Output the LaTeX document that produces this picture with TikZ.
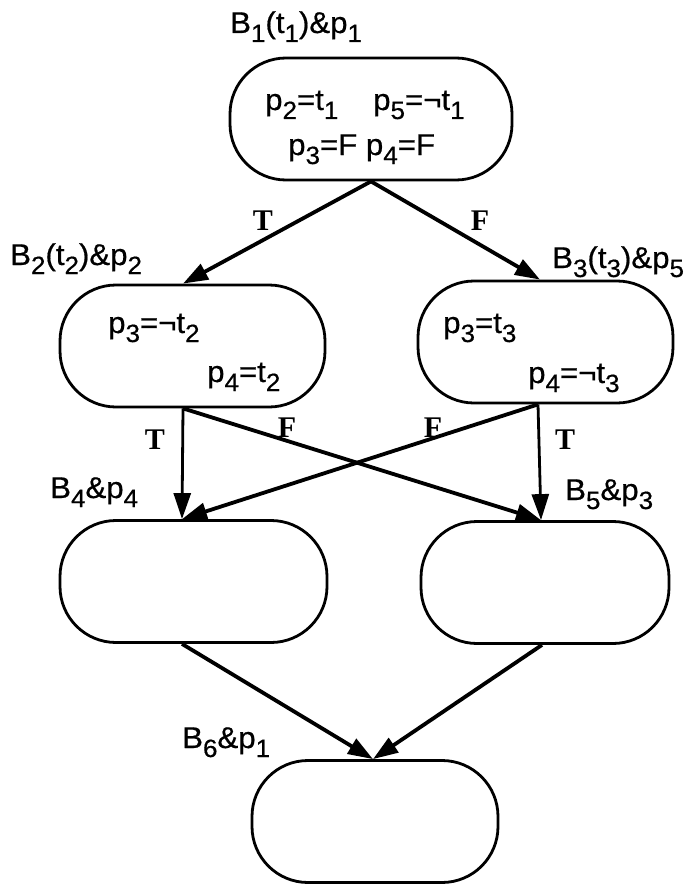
\documentclass[tikz,border=0pt]{standalone}
\usepackage{fontspec}
\setmainfont[FakeBold=0.6,FakeStretch=1.04]{Liberation Sans}
\newfontfamily\tfont{Liberation Serif}
\usetikzlibrary{arrows.meta}
\newcommand\sbs[1]{\raisebox{-0.3em}{\fontsize{25}{25}\selectfont #1}}
\begin{document}
\begin{tikzpicture}[x=1pt,y=-1pt,
  blk/.style={draw, line width=2.8pt, rounded corners=56pt, minimum height=122pt, inner sep=0pt},
  lab/.style={font=\fontsize{30}{32}\selectfont, inner sep=0pt, anchor=base west},
  tf/.style={font=\fontsize{30}{30}\selectfont\tfont\bfseries, inner sep=0pt},
  arr/.style={line width=3.8pt, -{Triangle[length=25pt,width=17pt]}},
  varr/.style={line width=2.8pt, -{Triangle[length=26pt,width=17pt]}}]
\useasboundingbox (0,0) rectangle (691,888);
% blocks
\node[blk, minimum width=282pt] (B1) at (371,119) {};
\node[blk, minimum width=265pt] (B2) at (192.5,346) {};
\node[blk, minimum width=255pt] (B3) at (545.5,342) {};
\node[blk, minimum width=267pt] (B4) at (193.5,581.5) {};
\node[blk, minimum width=248pt] (B5) at (545,582.5) {};
\node[blk, minimum width=246pt] (B6) at (375,821.5) {};
% block labels
\node[lab] (L1) at (230,33) {B\sbs{1}(t\sbs{1})\&p\sbs{1}};
\node[lab] (L2) at (10,265) {B\sbs{2}(t\sbs{2})\&p\sbs{2}};
\node[lab] (L3) at (552,268) {B\sbs{3}(t\sbs{3})\&p\sbs{5}};
\node[lab] (L4) at (50,498) {B\sbs{4}\&p\sbs{4}};
\node[lab] (L5) at (565,500) {B\sbs{5}\&p\sbs{3}};
\node[lab] (L6) at (182,748) {B\sbs{6}\&p\sbs{1}};
% block contents
\node[lab] (c11) at (265,110) {p\sbs{2}=t\sbs{1}};
\node[lab] (c12) at (373,110) {p\sbs{5}=¬t\sbs{1}};
\node[lab] (c13) at (288,155) {p\sbs{3}=F p\sbs{4}=F};
\node[lab] (c21) at (108,333) {p\sbs{3}=¬t\sbs{2}};
\node[lab] (c22) at (207,382) {p\sbs{4}=t\sbs{2}};
\node[lab] (c31) at (443,333) {p\sbs{3}=t\sbs{3}};
\node[lab] (c32) at (528,383) {p\sbs{4}=¬t\sbs{3}};
% connectors
\draw[arr] (B1.south) -- ([xshift=-9.5pt]B2.north);
\draw[arr] (B1.south) -- ([xshift=-5.5pt]B3.north);
\draw[varr] ([xshift=-9.5pt]B2.south) -- ([xshift=-11.5pt]B4.north);
\draw[arr] ([xshift=-9.5pt]B2.south) -- ([xshift=-4pt]B5.north);
\draw[varr] ([xshift=-7.5pt]B3.south) -- ([xshift=-4pt]B5.north);
\draw[arr] ([xshift=-7.5pt]B3.south) -- ([xshift=-11.5pt]B4.north);
\draw[arr] ([xshift=-11.5pt]B4.south) -- ([xshift=-2pt]B6.north);
\draw[arr] ([xshift=-3pt]B5.south) -- ([xshift=-2pt]B6.north);
% edge labels
\node[tf] (t1) at (263,221) {T};
\node[tf] (f1) at (480,221) {F};
\node[tf] (t2) at (155,440) {T};
\node[tf] (f2) at (287,428) {F};
\node[tf] (f3) at (433,428) {F};
\node[tf] (t3) at (565,440) {T};
\end{tikzpicture}
\end{document}
